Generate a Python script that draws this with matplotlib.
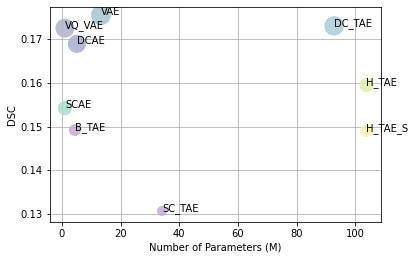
import matplotlib.pyplot as plt

names = ['VAE', 'VQ_VAE', 'DCAE', 'SCAE', 'B_TAE', 'SC_TAE', 'DC_TAE', 'H_TAE', 'H_TAE_S']
params = [13.3, 1.0, 5.1, 1.0, 4.4, 34.1, 92.8, 103.8, 103.8]
dsc = [0.1755, 0.1725, 0.1689, 0.1542, 0.1492, 0.1307, 0.1730, 0.1595, 0.1490]
sizes = [400, 360, 330, 200, 140, 100, 380, 200, 150]
colors = ['#a9c4d3', '#b1b1cb', '#a9aecf', '#aadbcd', '#c8aacf', '#c9abd0',
          '#aacdd6', '#ddefa8', '#f7f1a8']


def main():
    fig = plt.figure(figsize=(416 / 72, 263 / 72), dpi=72)
    ax = fig.add_axes([0.120, 0.156, 0.796, 0.817])
    ax.scatter(params, dsc, s=sizes, c=colors, alpha=0.85, edgecolors='none')
    for x, y, n in zip(params, dsc, names):
        ax.text(x, y, n, fontsize=10)
    ax.set_xlim(-4.1, 108.8)
    ax.set_ylim(0.1282, 0.1773)
    ax.set_xticks([0, 20, 40, 60, 80, 100])
    ax.set_yticks([0.13, 0.14, 0.15, 0.16, 0.17])
    ax.set_xlabel('Number of Parameters (M)')
    ax.set_ylabel('DSC')
    ax.grid(True)
    ax.set_axisbelow(True)
    fig.savefig('out.png', dpi=72)


if __name__ == "__main__":
    main()
